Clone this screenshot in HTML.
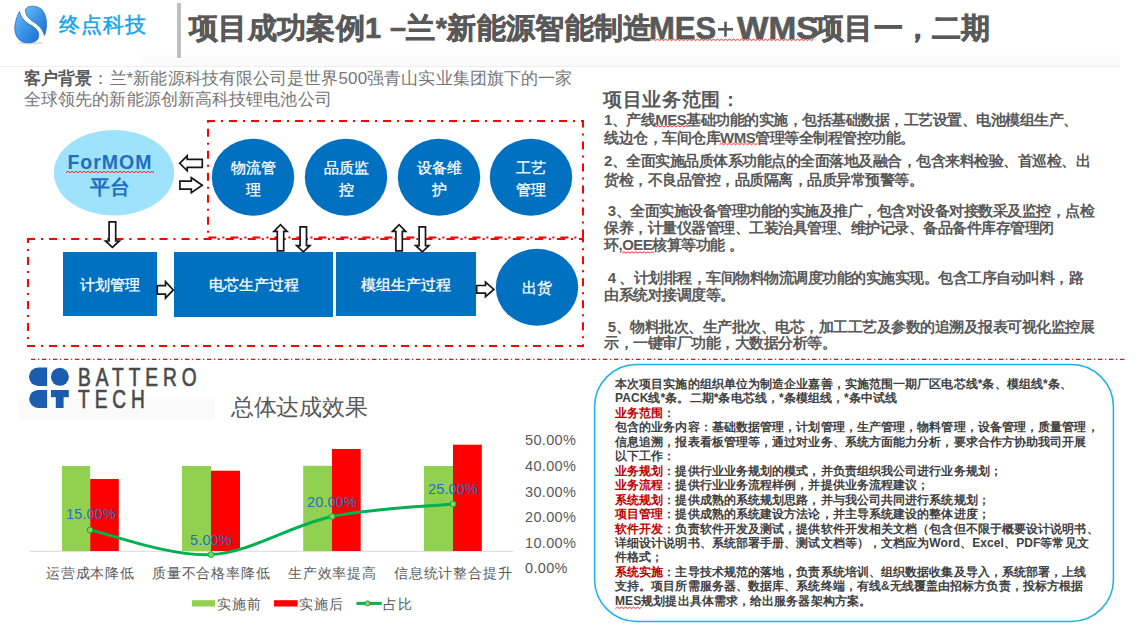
<!DOCTYPE html>
<html><head><meta charset="utf-8">
<style>
html,body{margin:0;padding:0;}
body{width:1136px;height:632px;position:relative;overflow:hidden;background:#fff;font-family:"Liberation Sans",sans-serif;}
.a{position:absolute;white-space:nowrap;}
.t{color:#fff;font-size:14.5px;line-height:22px;text-align:center;-webkit-text-stroke:0.3px #fff;}
.rp{position:absolute;left:604px;font-size:15px;letter-spacing:-0.5px;line-height:17.5px;font-weight:bold;color:#595959;white-space:nowrap;}
.bx{position:absolute;left:615px;font-size:12px;line-height:14.45px;letter-spacing:0.09px;font-weight:bold;color:#404040;white-space:nowrap;}
.r{color:#c00000;}
.tt{top:10px;font-size:30px;line-height:34px;font-weight:bold;color:#595959;-webkit-text-stroke:0.6px #595959;}
.cat{font-size:14px;line-height:18px;letter-spacing:0.8px;color:#595959;}
.dl{font-size:14.5px;line-height:16px;letter-spacing:0.15px;color:#2070c4;}
.ax{font-size:14.5px;line-height:16px;letter-spacing:0.35px;color:#595959;}
.leg{font-size:14px;line-height:18px;letter-spacing:1px;color:#595959;}
.wavy{text-decoration:underline wavy #e03030;text-decoration-thickness:1px;text-underline-offset:2px;}
</style></head><body>

<!-- header -->
<svg class="a" style="left:0;top:0" width="1136" height="70">
  <defs>
    <linearGradient id="lg1" x1="0" y1="0" x2="1" y2="1">
      <stop offset="0" stop-color="#6cbcf5"/><stop offset="0.5" stop-color="#3a93e6"/><stop offset="1" stop-color="#1a6fd2"/>
    </linearGradient>
    <linearGradient id="hd" x1="0" y1="0" x2="0" y2="1">
      <stop offset="0" stop-color="#ffffff"/><stop offset="1" stop-color="#fafafa"/>
    </linearGradient>
  </defs>
  <rect x="0" y="0" width="1136" height="66" fill="#fff"/>
  <ellipse cx="31" cy="43" rx="13" ry="1.5" fill="#ddd"/>
  <path d="M25.5,9.5 C27,5.5 35,5 40.5,8.5 C46.5,13 48.5,25 44.5,35.5 C42.5,29 39,25.5 34.5,22.5 C29,19 25,15 25.5,9.5 Z" fill="url(#lg1)" stroke="#1a62b8" stroke-width="0.7"/>
  <path d="M19.5,11.5 C20.5,17 24.5,21.5 30.5,25 C37,28.5 39.5,32 38.5,37.5 C37,42.5 29,44 23,42 C16,39.5 14,31 15,25 C16,19 17.5,15 19.5,11.5 Z" fill="url(#lg1)" stroke="#1a62b8" stroke-width="0.7"/>
  <rect x="140" y="50" width="980" height="16" fill="url(#hd)"/>
  <rect x="177" y="3" width="4" height="55" fill="#bfbfbf"/>
  <rect x="718" y="28" width="15" height="2.6" fill="#595959"/><rect x="724.2" y="21.7" width="2.6" height="15" fill="#595959"/>
  <rect x="0" y="66" width="1120" height="1" fill="#eeeeee"/>
</svg>
<div class="a" style="left:59px;top:11.5px;font-size:21px;line-height:26px;letter-spacing:0.9px;color:#17a4ea;-webkit-text-stroke:0.5px #17a4ea;">终点科技</div>
<div class="a tt" style="left:189px;top:11px;font-size:29px;letter-spacing:0.34px;">项目成功案例1 –兰*新能源智能制造</div>
<div class="a tt" style="left:649px;top:11.5px;font-size:31px;letter-spacing:0px;">MES</div>

<div class="a tt" style="left:737px;top:11.5px;font-size:31px;letter-spacing:0px;transform:scaleX(1.075);transform-origin:0 0;">WMS</div>
<div class="a tt" style="left:815px;top:11px;font-size:29px;letter-spacing:0.3px;">项目一，二期</div>

<!-- customer background -->
<div class="a" style="left:24px;top:69.2px;font-size:17px;line-height:20.6px;letter-spacing:0.1px;color:#767676;"><b style="color:#595959">客户背景</b>：兰*新能源科技有限公司是世界500强青山实业集团旗下的一家<br>全球领先的新能源创新高科技锂电池公司</div>

<!-- diagram -->
<svg class="a" style="left:0;top:0" width="600" height="365">
  <ellipse cx="114" cy="172.8" rx="60.2" ry="42.8" fill="#9ee2fb"/>
  <g fill="#0070c0">
    <ellipse cx="253" cy="177.2" rx="41.2" ry="38.5"/>
    <ellipse cx="346" cy="177.2" rx="41.2" ry="38.5"/>
    <ellipse cx="439" cy="177.2" rx="41.2" ry="38.5"/>
    <ellipse cx="531" cy="177.2" rx="41.2" ry="38.5"/>
    <ellipse cx="537" cy="287.2" rx="41.2" ry="38.5"/>
    <rect x="63" y="252" width="94" height="64"/>
    <rect x="174" y="252" width="159" height="65"/>
    <rect x="336" y="252" width="140" height="64"/>
  </g>
<line x1="207" y1="121" x2="584" y2="121" stroke="#ff0000" stroke-width="2" stroke-dasharray="8 6 2 6" stroke-dashoffset="0.0"/>
<line x1="208" y1="120" x2="208" y2="239" stroke="#ff0000" stroke-width="2" stroke-dasharray="8 6 2 6" stroke-dashoffset="13.3"/>
<line x1="583" y1="120" x2="583" y2="239" stroke="#ff0000" stroke-width="2" stroke-dasharray="8 6 2 6" stroke-dashoffset="0.5"/>
<line x1="208" y1="237.6" x2="584" y2="237.6" stroke="#ff0000" stroke-width="2" stroke-dasharray="8 6 2 6" stroke-dashoffset="21.6"/>
<line x1="27" y1="239" x2="584" y2="239" stroke="#ff0000" stroke-width="2" stroke-dasharray="8 6 2 6.08" stroke-dashoffset="0.0"/>
<line x1="28" y1="238" x2="28" y2="347" stroke="#ff0000" stroke-width="2" stroke-dasharray="8 6 2 6" stroke-dashoffset="3.0"/>
<line x1="583" y1="238" x2="583" y2="347" stroke="#ff0000" stroke-width="2" stroke-dasharray="8 6 2 6" stroke-dashoffset="3.8"/>
<line x1="27" y1="346" x2="584" y2="346" stroke="#ff0000" stroke-width="2" stroke-dasharray="8 6 2 6" stroke-dashoffset="0.0"/>

  <g fill="#fff" stroke="#161616" stroke-width="1.7" stroke-linejoin="miter">
<path d="M202.3,159.4 L187.2,159.4 L187.2,155.9 L179.7,163.3 L187.2,170.8 L187.2,167.3 L202.3,167.3 Z"/>
<path d="M179.9,181.2 L191.3,181.2 L191.3,177.7 L202.3,185.2 L191.3,192.6 L191.3,189.1 L179.9,189.1 Z"/>
<path d="M109.1,221.9 L109.1,241.0 L105.5,241.0 L112.4,247.3 L119.3,241.0 L115.7,241.0 L115.7,221.9 Z"/>
<path d="M157.3,285.6 L165.5,285.6 L165.5,281.7 L173.3,289.9 L165.5,298.1 L165.5,294.2 L157.3,294.2 Z"/>
<path d="M476.7,285.5 L485.5,285.5 L485.5,282.1 L493.9,289.4 L485.5,296.6 L485.5,293.2 L476.7,293.2 Z"/>
<path d="M277.3,250.8 L277.3,231.4 L273.9,231.4 L280.5,224.7 L287.1,231.4 L283.7,231.4 L283.7,250.8 Z"/>
<path d="M300.1,226.9 L300.1,245.7 L296.7,245.7 L303.3,251.8 L309.9,245.7 L306.5,245.7 L306.5,226.9 Z"/>
<path d="M395.9,250.8 L395.9,231.4 L392.5,231.4 L399.1,224.7 L405.7,231.4 L402.3,231.4 L402.3,250.8 Z"/>
<path d="M419.1,226.9 L419.1,245.7 L415.7,245.7 L422.3,251.8 L428.9,245.7 L425.5,245.7 L425.5,226.9 Z"/>

  </g>
</svg>
<div class="a" style="left:49.5px;top:150px;width:120px;text-align:center;font-weight:bold;color:#1f6fbf;font-size:19.5px;line-height:25px;"><span style="letter-spacing:1px;margin-right:-1px">ForMOM</span><br>平台</div>
<div class="a t" style="left:212px;top:156.8px;width:82px;">物流管<br>理</div>
<div class="a t" style="left:305px;top:156.8px;width:82px;">品质监<br>控</div>
<div class="a t" style="left:398px;top:156.8px;width:82px;">设备维<br>护</div>
<div class="a t" style="left:490px;top:156.8px;width:82px;">工艺<br>管理</div>
<div class="a t" style="left:496px;top:276.8px;width:82px;">出货</div>
<div class="a t" style="left:63px;top:273.8px;width:94px;">计划管理</div>
<div class="a t" style="left:174px;top:273.8px;width:159px;">电芯生产过程</div>
<div class="a t" style="left:336px;top:273.8px;width:140px;">模组生产过程</div>

<!-- right column -->
<div class="a" style="left:603px;top:88.3px;font-size:19px;letter-spacing:0.7px;line-height:24px;font-weight:bold;color:#595959;">项目业务范围：</div>
<div class="rp" style="top:111px;line-height:18.4px;">1、产线<span class="wv">MES</span>基础功能的实施，包括基础数据，工艺设置、电池模组生产、<br>线边仓，车间仓库<span class="wv">WMS</span>管理等全制程管控功能。</div>
<div class="rp" style="top:150.5px;line-height:19px;">2、全面实施品质体系功能点的全面落地及融合，包含来料检验、首巡检、出<br>货检，不良品管控，品质隔离，品质异常预警等。</div>
<div class="rp" style="top:202px;line-height:17px;">&nbsp;3、全面实施设备管理功能的实施及推广，包含对设备对接数采及监控，点检<br>保养，计量仪器管理、工装治具管理、维护记录、备品备件库存管理闭<br>环,<span class="wv">OEE</span>核算等功能 。</div>
<div class="rp" style="top:268.5px;line-height:17.5px;">&nbsp;4 、计划排程，车间物料物流调度功能的实施实现。包含工序自动叫料，路<br>由系统对接调度等。</div>
<div class="rp" style="top:318.5px;line-height:16.5px;">&nbsp;5、物料批次、生产批次、电芯，加工工艺及参数的追溯及报表可视化监控展<br>示，一键审厂功能，大数据分析等。</div>

<!-- separators & box -->
<svg class="a" style="left:0;top:0" width="1136" height="632">
  <line x1="30" y1="359.3" x2="1125" y2="359.3" stroke="#d01818" stroke-width="1.3" stroke-dasharray="4.4 2.6 1.2 2.8" stroke-dashoffset="10"/>
  <rect x="594.6" y="364.6" width="518.8" height="256.8" rx="42" ry="42" fill="none" stroke="#1cb0ee" stroke-width="1.5"/>
  <rect x="19" y="399" width="196" height="22" fill="#fafafa"/>
  <!-- battero logo -->
  <g fill="#1b5cae">
    <path d="M38.2,367.6 H47.1 V386 H38.2 A9.2,9.2 0 0 1 38.2,367.6 Z"/>
    <circle cx="59.9" cy="376.8" r="9.0"/>
    <path d="M38.2,389.9 H47.1 V407.9 H38.2 A9,9 0 0 1 38.2,389.9 Z"/>
    <path d="M51,389.9 H68.8 V397.3 H63.6 V407.9 H55.8 V397.3 H51 Z"/>
  </g>
  <!-- chart -->
  <line x1="29.7" y1="551.3" x2="513" y2="551.3" stroke="#d9d9d9" stroke-width="1"/>
  <g fill="#92d050">
    <rect x="62" y="466" width="28.2" height="85"/>
    <rect x="182" y="466" width="29" height="85"/>
    <rect x="303.2" y="465.8" width="28.8" height="85.2"/>
    <rect x="424" y="466" width="29" height="85"/>
    <rect x="192" y="600.2" width="23" height="6.3"/>
  </g>
  <g fill="#ff0000">
    <rect x="90.2" y="479" width="28.6" height="72"/>
    <rect x="211" y="470.7" width="29" height="80.3"/>
    <rect x="332" y="449" width="28.7" height="102"/>
    <rect x="453" y="444.7" width="28.8" height="106.3"/>
    <rect x="274" y="600.2" width="23.7" height="6.3"/>
  </g>
  <path d="M90,530 C110.2,534.1 170.7,556.9 211,554.6 C251.3,552.4 291.7,524.9 332,516.5 C372.3,508.1 432.8,506.1 453,504" fill="none" stroke="#00b050" stroke-width="3" stroke-linecap="round"/>
  <g fill="#92d050" stroke="#00b050" stroke-width="1">
    <circle cx="90" cy="530" r="2.9"/><circle cx="211" cy="554.6" r="2.9"/><circle cx="332" cy="516.5" r="2.9"/><circle cx="453" cy="504" r="2.9"/>
  </g>
  <line x1="356.4" y1="603.4" x2="381.8" y2="603.4" stroke="#00b050" stroke-width="3"/>
  <circle cx="367.5" cy="603.4" r="2.5" fill="#92d050" stroke="#00b050" stroke-width="1"/>
</svg>
<div class="a" style="left:78px;top:365.5px;font-size:25.5px;line-height:22.5px;letter-spacing:6.6px;color:#4a4a4a;-webkit-text-stroke:0.7px #4a4a4a;transform:scaleX(0.75);transform-origin:0 0;">BATTERO<br>TECH</div>
<div class="a" style="left:231px;top:392.5px;font-size:23px;line-height:28px;letter-spacing:-0.3px;color:#595959;">总体达成效果</div>
<div class="a cat" style="left:46px;top:564px;">运营成本降低</div>
<div class="a cat" style="left:152px;top:564px;">质量不合格率降低</div>
<div class="a cat" style="left:288px;top:564px;">生产效率提高</div>
<div class="a cat" style="left:394px;top:564px;">信息统计整合提升</div>
<div class="a dl" style="left:66px;top:506px;">15.00%</div>
<div class="a dl" style="left:190px;top:532px;">5.00%</div>
<div class="a dl" style="left:307px;top:494px;">20.00%</div>
<div class="a dl" style="left:428px;top:481px;">25.00%</div>
<div class="a ax" style="left:525px;top:432px;">50.00%</div>
<div class="a ax" style="left:525px;top:458px;">40.00%</div>
<div class="a ax" style="left:525px;top:484px;">30.00%</div>
<div class="a ax" style="left:525px;top:509px;">20.00%</div>
<div class="a ax" style="left:525px;top:535px;">10.00%</div>
<div class="a ax" style="left:525px;top:560px;">0.00%</div>
<div class="a leg" style="left:217px;top:595px;">实施前</div>
<div class="a leg" style="left:299px;top:595px;">实施后</div>
<div class="a leg" style="left:383px;top:595px;">占比</div>

<!-- box text -->
<div class="bx" style="top:377px;">本次项目实施的组织单位为制造企业嘉善，实施范围一期厂区电芯线*条、模组线*条、<br>PACK线*条。二期*条电芯线，*条模组线，*条中试线<br><span class="r">业务范围</span>：<br>包含的业务内容：基础数据管理，计划管理，生产管理，物料管理，设备管理，质量管理，<br>信息追溯，报表看板管理等，通过对业务、系统方面能力分析，要求合作方协助我司开展<br>以下工作：<br><span class="r">业务规划</span>：提供行业业务规划的模式，并负责组织我公司进行业务规划；<br><span class="r">业务流程</span>：提供行业业务流程样例，并提供业务流程建议；<br><span class="r">系统规划</span>：提供成熟的系统规划思路，并与我公司共同进行系统规划；<br><span class="r">项目管理</span>：提供成熟的系统建设方法论，并主导系统建设的整体进度；<br><span class="r">软件开发</span>：负责软件开发及测试，提供软件开发相关文档（包含但不限于概要设计说明书、<br>详细设计说明书、系统部署手册、测试文档等），文档应为Word、Excel、PDF等常见文<br>件格式；<br><span class="r">系统实施</span>：主导技术规范的落地，负责系统培训、组织数据收集及导入，系统部署，上线<br>支持。项目所需服务器、数据库、系统终端，有线&amp;无线覆盖由招标方负责，投标方根据<br><span class="wv">MES</span>规划提出具体需求，给出服务器架构方案。</div>

<svg class="a" style="left:0;top:0" width="1136" height="632"><g fill="none" stroke="#ff2a2a" stroke-width="1"><polyline points="651.5,40.6 653.5,39.1 655.5,40.6 657.5,39.1 659.5,40.6 661.5,39.1 663.5,40.6 665.5,39.1 667.5,40.6 669.5,39.1 671.5,40.6 673.5,39.1 675.5,40.6 677.5,39.1 679.5,40.6 681.5,39.1 683.5,40.6 685.5,39.1 687.5,40.6 689.5,39.1 691.5,40.6 693.5,39.1 695.5,40.6 697.5,39.1 699.5,40.6 701.5,39.1 703.5,40.6 705.5,39.1 707.5,40.6 709.5,39.1 711.5,40.6 713.5,39.1 715.5,40.6 717.5,39.1 719.5,40.6 721.5,39.1 723.5,40.6 725.5,39.1 727.5,40.6 729.5,39.1 731.5,40.6 733.5,39.1 735.5,40.6 737.5,39.1 739.5,40.6 741.5,39.1 743.5,40.6 745.5,39.1 747.5,40.6 749.5,39.1 751.5,40.6 753.5,39.1 755.5,40.6 757.5,39.1 759.5,40.6 761.5,39.1 763.5,40.6 765.5,39.1 767.5,40.6 769.5,39.1 771.5,40.6 773.5,39.1 775.5,40.6 777.5,39.1 779.5,40.6 781.5,39.1 783.5,40.6 785.5,39.1 787.5,40.6 789.5,39.1 791.5,40.6 793.5,39.1 795.5,40.6 797.5,39.1 799.5,40.6 801.5,39.1 803.5,40.6 805.5,39.1 807.5,40.6 809.5,39.1 811.5,40.6 813.5,39.1"/><polyline points="66.0,172.8 68.0,171.2 70.0,172.8 72.0,171.2 74.0,172.8 76.0,171.2 78.0,172.8 80.0,171.2 82.0,172.8 84.0,171.2 86.0,172.8 88.0,171.2 90.0,172.8 92.0,171.2 94.0,172.8 96.0,171.2 98.0,172.8 100.0,171.2 102.0,172.8 104.0,171.2 106.0,172.8 108.0,171.2 110.0,172.8 112.0,171.2 114.0,172.8 116.0,171.2 118.0,172.8 120.0,171.2 122.0,172.8 124.0,171.2 126.0,172.8 128.0,171.2 130.0,172.8 132.0,171.2 134.0,172.8 136.0,171.2 138.0,172.8 140.0,171.2 142.0,172.8 144.0,171.2 146.0,172.8 148.0,171.2 150.0,172.8 152.0,171.2 154.0,172.8"/><polyline points="656.0,127.0 658.0,125.5 660.0,127.0 662.0,125.5 664.0,127.0 666.0,125.5 668.0,127.0 670.0,125.5 672.0,127.0 674.0,125.5 676.0,127.0 678.0,125.5 680.0,127.0 682.0,125.5 684.0,127.0 686.0,125.5 688.0,127.0"/><polyline points="719.5,144.8 721.5,143.2 723.5,144.8 725.5,143.2 727.5,144.8 729.5,143.2 731.5,144.8 733.5,143.2 735.5,144.8 737.5,143.2 739.5,144.8 741.5,143.2 743.5,144.8 745.5,143.2 747.5,144.8 749.5,143.2 751.5,144.8 753.5,143.2 755.5,144.8 757.5,143.2"/><polyline points="622.0,253.2 624.0,251.7 626.0,253.2 628.0,251.7 630.0,253.2 632.0,251.7 634.0,253.2 636.0,251.7 638.0,253.2 640.0,251.7 642.0,253.2 644.0,251.7 646.0,253.2 648.0,251.7 650.0,253.2 652.0,251.7 654.0,253.2"/><polyline points="615.5,608.6 617.5,607.1 619.5,608.6 621.5,607.1 623.5,608.6 625.5,607.1 627.5,608.6 629.5,607.1 631.5,608.6 633.5,607.1 635.5,608.6 637.5,607.1 639.5,608.6 641.5,607.1"/></g></svg>
</body></html>
